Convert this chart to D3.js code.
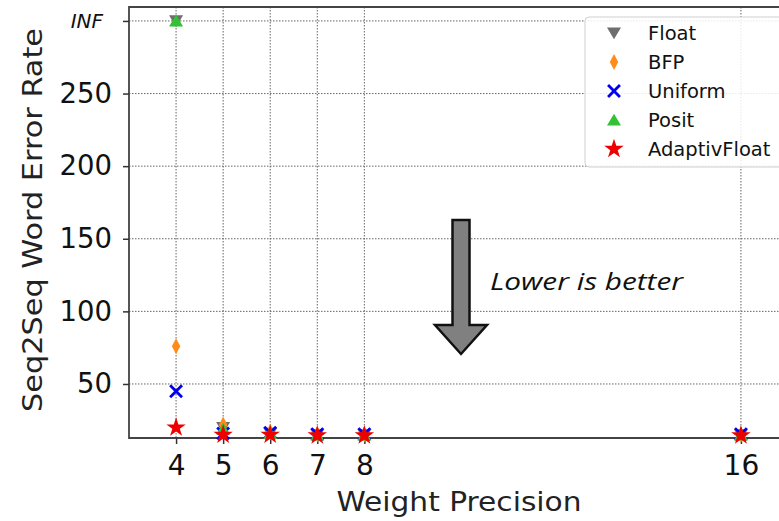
<!DOCTYPE html>
<html><head><meta charset="utf-8">
<script src="https://cdn.jsdelivr.net/npm/d3@7"></script>
<style>body{margin:0;background:#fff}svg{display:block}</style>
</head><body>
<script>
const precisions = [4, 5, 6, 7, 8, 16];
const xTicks = [4, 5, 6, 7, 8, 16];
const yTicks = [50, 100, 150, 200, 250, 300];
const yTickLabels = ["50", "100", "150", "200", "250", "INF"];
const floatVals    = [300, 20, 16, 15, 15, 15];
const bfpVals      = [76, 22, 17, 15.5, 15.5, 15];
const uniformVals  = [45, 16, 16.5, 15.5, 15.5, 15.5];
const positVals    = [300, 19, 16, 15, 15, 15];
const adaptivVals  = [20, 15, 15, 14.5, 14.5, 14.5];
const seriesNames  = ["Float", "BFP", "Uniform", "Posit", "AdaptivFloat"];

const W = 779, H = 521;
const svg = d3.select("body").append("svg").attr("width", W).attr("height", H);
const x = d3.scaleLinear().domain([3, 17]).range([129, 788]);
const y = d3.scaleLinear().domain([12.8, 309.6]).range([438, 7]);

const series = [
  {name: seriesNames[0], vals: floatVals, color: "#6e6e6e", sym: "tridown"},
  {name: seriesNames[1], vals: bfpVals, color: "#ff8c1a", sym: "diamond"},
  {name: seriesNames[2], vals: uniformVals, color: "#0000ee", sym: "x"},
  {name: seriesNames[3], vals: positVals, color: "#33c233", sym: "triup"},
  {name: seriesNames[4], vals: adaptivVals, color: "#ee0000", sym: "star"}
];

// grid
const grid = svg.append("g");
xTicks.forEach(t => grid.append("line").attr("x1", x(t)).attr("x2", x(t)).attr("y1", 7).attr("y2", 438)
  .attr("stroke", "#555").attr("stroke-width", 0.9).attr("stroke-dasharray", "1.5,1.5"));
yTicks.forEach(t => grid.append("line").attr("x1", 129).attr("x2", W).attr("y1", y(t)).attr("y2", y(t))
  .attr("stroke", "#555").attr("stroke-width", 0.9).attr("stroke-dasharray", "1.5,1.5"));

// frame
svg.append("path").attr("d", `M${W+5},7 H129 V438 H${W+5}`).attr("fill", "none").attr("stroke", "#444").attr("stroke-width", 1.8);

// axes
const yAxis = d3.axisLeft(y).tickValues(yTicks).tickSize(6).tickPadding(11)
  .tickFormat((d, i) => yTickLabels[i]);
const ga = svg.append("g").attr("transform", "translate(129,0)").call(yAxis);
ga.select(".domain").remove();
ga.selectAll("line").attr("stroke", "#333").attr("stroke-width", 1.5);
ga.selectAll("text").attr("font-family", "DejaVu Sans").attr("font-size", 27.5).attr("fill", "#111")
  .each(function(d){ if (d === 300) d3.select(this).attr("font-style", "italic").attr("font-size", 20).attr("dx", -9); });

const xAxis = d3.axisBottom(x).tickValues(xTicks).tickSize(6).tickPadding(11).tickFormat(d3.format("d"));
const gx = svg.append("g").attr("transform", "translate(0,438)").call(xAxis);
gx.select(".domain").remove();
gx.selectAll("line").attr("stroke", "#333").attr("stroke-width", 1.5);
gx.selectAll("text").attr("font-family", "DejaVu Sans").attr("font-size", 28).attr("fill", "#111");

// labels
svg.append("text").attr("x", 459).attr("y", 511).attr("text-anchor", "middle")
  .attr("font-family", "DejaVu Sans").attr("font-size", 26).attr("fill", "#222")
  .attr("textLength", 245).attr("lengthAdjust", "spacingAndGlyphs").text("Weight Precision");
svg.append("text").attr("transform", "translate(42,220) rotate(-90)").attr("text-anchor", "middle")
  .attr("font-family", "DejaVu Sans").attr("font-size", 27).attr("fill", "#222")
  .attr("textLength", 384).attr("lengthAdjust", "spacingAndGlyphs").text("Seq2Seq Word Error Rate");

// markers
function symPath(sym, s) {
  if (sym === "tridown") return `M${-s},${-s*0.8} L${s},${-s*0.8} L0,${s*0.9} Z`;
  if (sym === "triup") return `M${-s},${s*0.8} L${s},${s*0.8} L0,${-s*0.9} Z`;
  if (sym === "diamond") return `M0,${-s*1.15} L${s*0.6},0 L0,${s*1.15} L${-s*0.6},0 Z`;
  if (sym === "star") return d3.symbol(d3.symbolStar, s*s*2.4)();
  return null;
}
function drawMarker(g, sym, color, cx, cy, s) {
  if (sym === "x") {
    g.append("path").attr("d", `M${cx-s*0.85},${cy-s*0.85} L${cx+s*0.85},${cy+s*0.85} M${cx-s*0.85},${cy+s*0.85} L${cx+s*0.85},${cy-s*0.85}`)
      .attr("stroke", color).attr("stroke-width", 2.8).attr("fill", "none");
  } else {
    g.append("path").attr("d", symPath(sym, s)).attr("transform", `translate(${cx},${cy})`).attr("fill", color);
  }
}
const mg = svg.append("g");
series.forEach(se => {
  se.vals.forEach((v, i) => drawMarker(mg, se.sym, se.color, x(precisions[i]), y(v), 7));
});

// arrow
const ax = 461;
svg.append("path").attr("d", `M${ax-8.5},220 H${ax+8.5} V325 H${ax+26} L${ax},354 L${ax-26},325 H${ax-8.5} Z`)
  .attr("fill", "#808080").attr("stroke", "#111").attr("stroke-width", 2.5).attr("stroke-linejoin", "miter");
svg.append("text").attr("x", 490).attr("y", 290).attr("font-family", "Open Sans").attr("font-style", "italic")
  .attr("font-size", 23).attr("fill", "#111").attr("textLength", 193).attr("lengthAdjust", "spacingAndGlyphs").text("Lower is better");

// legend
const lg = svg.append("g");
lg.append("rect").attr("x", 585).attr("y", 17).attr("width", 210).attr("height", 150).attr("rx", 4)
  .attr("fill", "#fff").attr("fill-opacity", 0.85).attr("stroke", "#cfcfcf").attr("stroke-width", 1);
series.forEach((se, i) => {
  const cy = 33 + i * 29;
  drawMarker(lg, se.sym, se.color, 614, cy, 7);
  lg.append("text").attr("x", 648).attr("y", cy + 7).attr("font-family", "DejaVu Sans").attr("font-size", 19.5)
    .attr("fill", "#111").text(se.name);
});
</script>
</body></html>
